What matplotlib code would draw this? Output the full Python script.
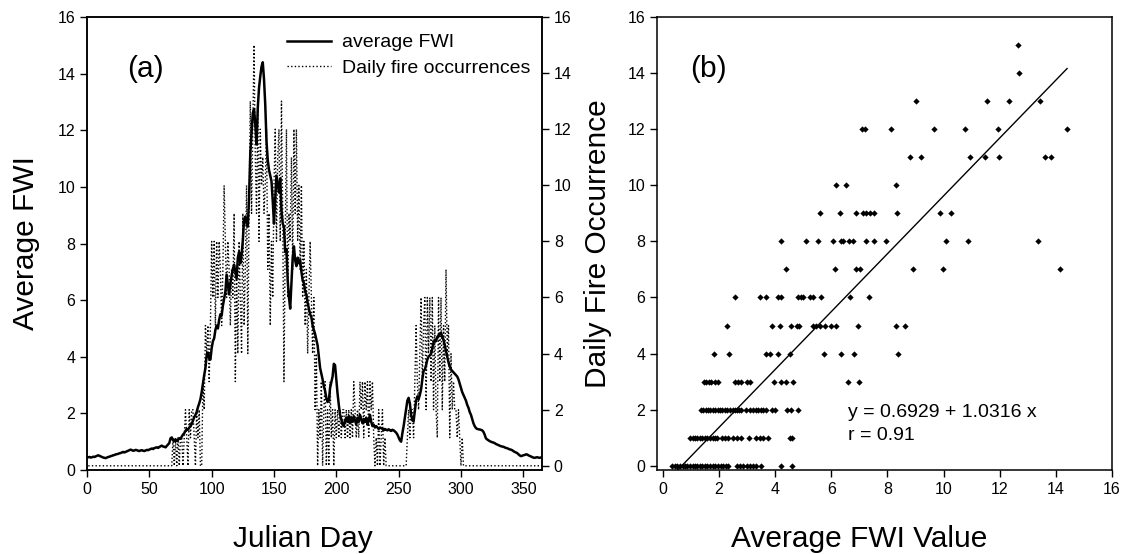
import matplotlib
matplotlib.use("Agg")
import matplotlib.pyplot as plt
import numpy as np

plt.rcParams['font.family'] = ['Liberation Sans', 'DejaVu Sans']

# ---------------- data ----------------
julian_day = list(range(1, 366))

avg_fwi = [
    0.45,0.46,0.44,0.45,0.47,0.46,0.48,0.50,0.52,0.50,
    0.48,0.46,0.44,0.43,0.42,0.44,0.46,0.47,0.49,0.50,
    0.52,0.53,0.55,0.56,0.57,0.59,0.60,0.62,0.64,0.62,
    0.64,0.66,0.68,0.70,0.72,0.70,0.68,0.69,0.71,0.70,
    0.68,0.67,0.69,0.70,0.68,0.67,0.69,0.71,0.70,0.72,
    0.74,0.76,0.74,0.77,0.79,0.80,0.78,0.81,0.84,0.86,
    0.83,0.82,0.80,0.85,0.90,0.95,1.12,1.15,1.05,1.02,
    1.08,1.02,1.06,1.12,1.10,1.18,1.25,1.30,1.38,1.45,
    1.42,1.50,1.55,1.62,1.75,1.86,1.95,2.05,2.22,2.35,
    2.50,2.75,3.05,3.35,3.60,4.05,4.15,3.95,3.90,4.30,
    4.55,4.65,4.95,5.10,5.00,5.30,5.50,5.45,5.80,6.05,
    6.30,6.90,6.55,6.20,6.60,6.85,7.10,7.25,7.00,6.75,
    7.50,7.70,7.30,7.60,8.10,8.85,8.95,8.70,8.60,9.60,
    11.20,11.90,12.60,12.75,12.20,11.50,12.80,13.50,13.90,14.25,
    14.40,13.80,12.90,11.60,10.95,10.60,10.40,10.20,9.50,8.70,
    9.60,10.40,10.10,9.80,10.30,9.20,8.70,8.60,7.70,7.80,
    6.70,6.10,5.70,6.60,7.50,7.90,7.40,7.20,7.50,7.30,
    7.40,7.00,6.70,6.60,6.30,6.20,5.90,5.70,5.50,5.40,
    5.10,4.95,4.80,4.60,4.40,4.00,3.60,3.40,3.20,2.95,
    2.80,2.55,2.40,2.45,2.90,3.10,3.30,3.75,3.70,3.20,
    2.70,2.30,1.95,1.80,1.60,1.55,1.75,1.85,1.70,1.90,
    1.65,1.85,1.70,1.90,1.75,1.60,1.85,1.70,1.95,1.80,
    1.65,1.80,1.70,1.85,1.60,1.75,1.95,1.70,1.55,1.60,
    1.50,1.55,1.50,1.45,1.50,1.48,1.45,1.40,1.45,1.42,
    1.40,1.44,1.40,1.38,1.42,1.40,1.36,1.32,1.25,1.15,
    1.05,1.00,1.30,1.55,1.85,2.15,2.45,2.55,2.35,1.95,
    1.75,1.72,2.10,2.45,2.60,2.50,2.65,2.85,3.20,3.50,
    3.55,3.70,3.90,4.00,4.05,4.10,4.30,4.50,4.60,4.55,
    4.70,4.75,4.80,4.85,4.70,4.60,4.40,4.20,4.00,3.80,
    3.65,3.55,3.50,3.45,3.40,3.35,3.30,3.20,3.05,2.90,
    2.75,2.65,2.55,2.45,2.30,2.20,2.05,1.95,1.80,1.65,
    1.55,1.48,1.45,1.44,1.43,1.42,1.40,1.35,1.25,1.12,
    1.08,1.05,1.02,1.00,0.98,0.97,0.95,0.92,0.90,0.88,
    0.86,0.84,0.83,0.82,0.80,0.78,0.77,0.75,0.73,0.72,
    0.70,0.67,0.64,0.62,0.60,0.56,0.52,0.49,0.50,0.52,
    0.53,0.55,0.55,0.52,0.50,0.48,0.46,0.44,0.43,0.44,
    0.45,0.44,0.43,0.44,0.45,
]

daily_fires = [
    0,0,0,0,0,0,0,0,0,0,
    0,0,0,0,0,0,0,0,0,0,
    0,0,0,0,0,0,0,0,0,0,
    0,0,0,0,0,0,0,0,0,0,
    0,0,0,0,0,0,0,0,0,0,
    0,0,0,0,0,0,0,0,0,0,
    0,0,0,0,0,0,0,0,1,0,
    1,0,1,0,1,1,0,1,2,1,
    0,2,1,2,2,1,0,2,1,2,
    0,0,3,2,5,4,5,3,5,8,
    6,8,5,8,6,8,7,5,7,10,
    8,6,8,7,5,7,6,9,3,7,
    4,8,6,4,9,5,7,10,4,9,
    13,9,12,15,11,9,13,8,12,10,
    11,9,10,12,7,9,5,8,6,10,
    12,8,11,12,8,13,9,3,8,12,
    6,9,8,11,7,12,9,12,8,10,
    7,10,6,8,5,7,4,6,8,6,
    4,6,2,4,0,2,1,3,0,2,
    3,0,2,0,3,1,2,0,2,1,
    2,1,2,1,2,2,1,2,1,2,
    1,2,1,3,2,1,2,1,3,2,
    3,1,3,2,3,1,3,2,3,1,
    0,1,0,2,0,1,2,0,1,0,
    0,0,0,0,0,0,0,0,0,0,
    0,0,0,0,0,0,1,2,1,2,
    2,1,3,5,3,2,4,6,3,5,
    6,2,6,4,6,3,6,2,5,2,
    1,6,3,6,2,5,3,7,4,5,
    1,4,2,3,2,2,1,2,1,0,
    1,0,0,0,0,0,0,0,0,0,
    0,0,0,0,0,0,0,0,0,0,
    0,0,0,0,0,0,0,0,0,0,
    0,0,0,0,0,0,0,0,0,0,
    0,0,0,0,0,0,0,0,0,0,
    0,0,0,0,0,0,0,0,0,0,
    0,0,0,0,0,
]

# scatter (panel b): FWI values of the points, one list per daily-fire count
fwi_at_fire0 = [0.34,0.43,0.51,0.60,0.70,0.78,0.87,0.96,1.06,1.14,1.23,1.32,1.41,1.49,1.58,
                1.67,1.77,1.85,1.97,2.06,2.15,2.24,2.33,2.65,2.74,2.84,2.98,3.10,3.21,3.33,
                3.49,4.20,4.61]
fwi_at_fire1 = [0.96,1.06,1.14,1.23,1.32,1.41,1.49,1.58,1.67,1.77,1.85,1.91,2.09,2.21,2.33,
                2.48,2.65,2.80,3.07,3.31,3.45,3.57,3.75,4.52,4.61]
fwi_at_fire2 = [1.35,1.44,1.53,1.61,1.67,1.77,1.85,1.95,2.03,2.12,2.21,2.29,2.38,2.48,2.56,
                2.65,2.72,2.80,2.95,3.10,3.21,3.31,3.39,3.49,3.57,3.69,3.87,3.99,4.42,4.58,4.81]
fwi_at_fire3 = [1.46,1.55,1.65,1.73,1.85,1.97,2.56,2.68,2.80,2.98,3.10,3.95,4.22,4.40,4.64,6.60,6.99]
fwi_at_fire4 = [1.83,2.35,3.69,3.81,4.11,4.52,5.73,6.33,6.80,8.37]
fwi_at_fire5 = [2.30,3.87,4.16,4.58,4.76,4.84,5.35,5.47,5.59,5.79,6.00,6.18,6.95,8.32,8.61]
fwi_at_fire6 = [2.56,3.45,3.69,4.11,4.22,4.81,4.93,4.99,5.23,5.35,5.65,6.65,7.34]
fwi_at_fire7 = [4.40,6.12,6.89,7.01,8.91,9.98,14.13]
fwi_at_fire8 = [4.22,5.11,5.53,6.06,6.36,6.42,6.62,6.77,7.22,7.51,7.94,10.09,10.87,13.35]
fwi_at_fire9 = [5.61,6.30,6.87,7.13,7.25,7.37,7.51,8.34,9.88,10.25]
fwi_at_fire10 = [6.18,6.53,8.29]
fwi_at_fire11 = [8.81,9.20,10.95,11.46,11.99,13.63,13.83]
fwi_at_fire12 = [7.11,7.19,8.14,9.65,10.75,11.93,14.39]
fwi_at_fire13 = [9.00,11.54,12.32,13.44]
fwi_at_fire14 = [12.68]
fwi_at_fire15 = [12.65]

scatter_groups = [fwi_at_fire0, fwi_at_fire1, fwi_at_fire2, fwi_at_fire3, fwi_at_fire4,
                  fwi_at_fire5, fwi_at_fire6, fwi_at_fire7, fwi_at_fire8, fwi_at_fire9,
                  fwi_at_fire10, fwi_at_fire11, fwi_at_fire12, fwi_at_fire13,
                  fwi_at_fire14, fwi_at_fire15]

# regression line as drawn (label text is reproduced verbatim from the figure)
reg_intercept = -0.6929
reg_slope = 1.0316
reg_x_range = [0.45, 14.4]
eq_text = "y = 0.6929 + 1.0316 x"
r_text = "r = 0.91"

xticks_a = [0, 50, 100, 150, 200, 250, 300, 350]
yticks = [0, 2, 4, 6, 8, 10, 12, 14, 16]
xticks_b = [0, 2, 4, 6, 8, 10, 12, 14, 16]

# ---------------- figure ----------------
W, H = 1125, 554
fig = plt.figure(figsize=(W / 100, H / 100), dpi=100)

def frac(l, t, r, b):
    return [l / W, 1 - b / H, (r - l) / W, (b - t) / H]

TICK_FS = 11.5
LABEL_FS = 21.5
SMALL_FS = 14

# ---- panel (a)
ax1 = fig.add_axes(frac(87, 17, 542, 470))
ax1r = ax1.twinx()
ln_f, = ax1r.plot(julian_day, daily_fires, color='black', lw=1.0,
                  linestyle=(0, (1, 1.6)), label='Daily fire occurrences')
ln_w, = ax1.plot(julian_day, avg_fwi, color='black', lw=1.8, label='average FWI')
ax1.set_zorder(ax1r.get_zorder() + 1)
ax1.patch.set_visible(False)

ax1.set_xlim(0, 365)
ax1.set_ylim(0, 16)
ax1r.set_ylim(-0.15, 16)
ax1.set_xticks(xticks_a)
ax1.set_yticks(yticks)
ax1r.set_yticks(yticks)
ax1.tick_params(direction='out', length=5, width=1, labelsize=TICK_FS, top=False, right=False)
ax1r.tick_params(direction='out', length=5, width=1, labelsize=TICK_FS)
ax1.set_xlabel('Julian Day', fontsize=LABEL_FS)
ax1.set_ylabel('Average FWI', fontsize=LABEL_FS)
ax1r.set_ylabel('Daily Fire Occurrence', fontsize=LABEL_FS)
ax1.xaxis.set_label_coords(0.475, -0.122)
ax1.yaxis.set_label_coords(-0.103, 0.5)
ax1r.yaxis.set_label_coords(1.093, 0.5)
ax1.text(0.128, 0.885, '(a)', transform=ax1.transAxes, fontsize=LABEL_FS,
         ha='center', va='center')
ax1.legend(handles=[ln_w, ln_f], loc='upper left', bbox_to_anchor=(0.44, 0.963),
           frameon=False, fontsize=SMALL_FS, handlelength=2.27, handletextpad=0.57,
           borderpad=0, borderaxespad=0, labelspacing=0.4)

# ---- panel (b)
ax2 = fig.add_axes(frac(657, 17, 1112, 470))
for n_fire, xs in enumerate(scatter_groups):
    ax2.plot(xs, [n_fire] * len(xs), linestyle='none', marker='D',
             markersize=3.2, color='black', markeredgewidth=0)
reg_y = [reg_intercept + reg_slope * x for x in reg_x_range]
ax2.plot(reg_x_range, reg_y, color='black', lw=1.0)
ax2.set_xlim(-0.21, 16)
ax2.set_ylim(-0.15, 16)
ax2.set_xticks(xticks_b)
ax2.set_yticks(yticks)
ax2.tick_params(direction='out', length=5, width=1, labelsize=TICK_FS, top=False, right=False)
ax2.set_xlabel('Average FWI Value', fontsize=LABEL_FS)
ax2.xaxis.set_label_coords(0.445, -0.122)
ax2.text(0.114, 0.885, '(b)', transform=ax2.transAxes, fontsize=LABEL_FS,
         ha='center', va='center')
ax2.text(6.6, 1.9, eq_text, fontsize=SMALL_FS, ha='left', va='center')
ax2.text(6.6, 1.08, r_text, fontsize=SMALL_FS, ha='left', va='center')

for ax in (ax1, ax1r, ax2):
    for s in ax.spines.values():
        s.set_linewidth(1.1)

fig.savefig('out.png', dpi=100)
